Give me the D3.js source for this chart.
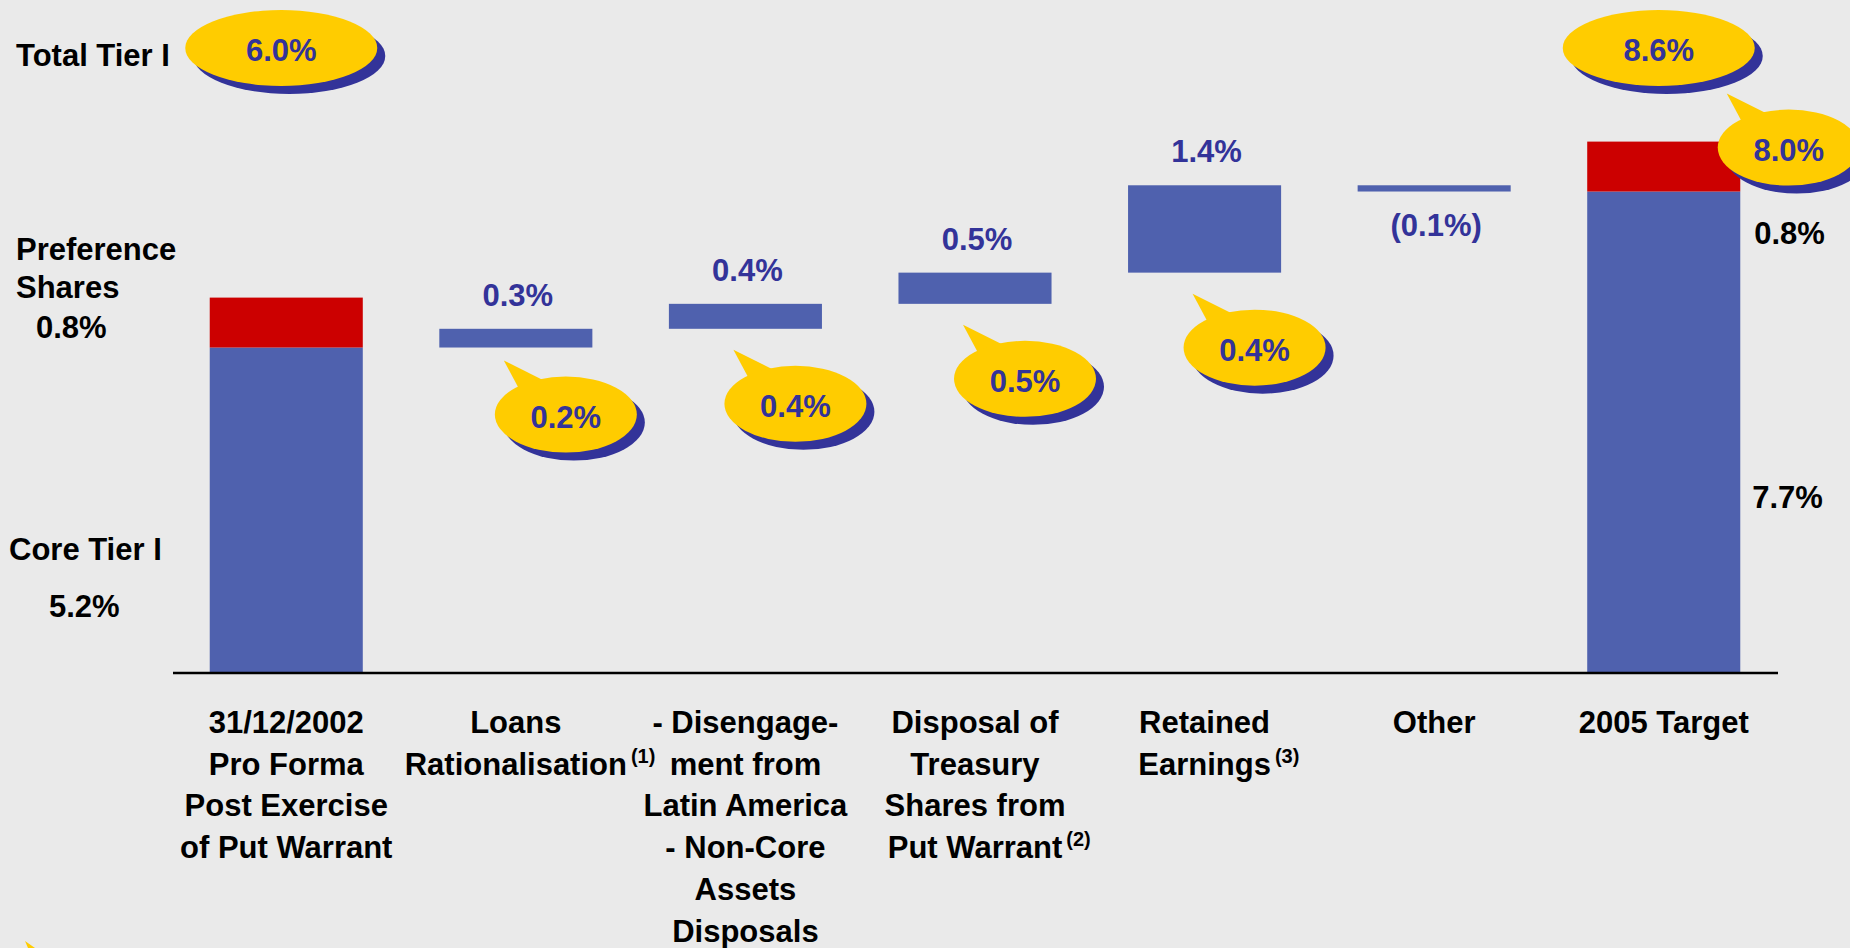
<!DOCTYPE html>
<html>
<head>
<meta charset="utf-8">
<script src="https://cdn.jsdelivr.net/npm/d3@7"></script>
<style>
  body { margin: 0; background: #EAEAEA; }
  text { font-family: "Liberation Sans", Arial, sans-serif; font-weight: bold; }
</style>
</head>
<body>
<script>
// bar categories, in order of the bridge
var categories = ['base', 'loans', 'disengagement', 'treasury', 'retained', 'other', 'target']
var categoryLines = [
    ['31/12/2002', 'Pro Forma', 'Post Exercise', 'of Put Warrant'],
    ['Loans', 'Rationalisation'],
    ['- Disengage-', 'ment from', 'Latin America', '- Non-Core', 'Assets', 'Disposals'],
    ['Disposal of', 'Treasury', 'Shares from', 'Put Warrant'],
    ['Retained', 'Earnings'],
    ['Other'],
    ['2005 Target']
]
var footnotes = [null, '(1)', null, '(2)', '(3)', null, null]

// stacked bars (start / target): core tier I and preference shares, in %
var coreValues = [5.2, null, null, null, null, null, 7.7]
var prefValues = [0.8, null, null, null, null, null, 0.8]
// floating steps
var changeValues = [null, 0.3, 0.4, 0.5, 1.4, -0.1, null]
// yellow callouts under the steps
var calloutValues = [null, 0.2, 0.4, 0.5, 0.4, null, null]
// total tier I ovals and the 2005 callout
var totalTier = [6.0, null, null, null, null, null, 8.6]
var targetCallout = 8.0

var W = 1850, H = 948
var blue = '#4F61AE', red = '#CC0000', yellow = '#FFCC00', navy = '#333399'
var fs = 31

var fmt = function(v) {
    var s = d3.format('.1f')(Math.abs(v)) + '%'
    return v < 0 ? '(' + s + ')' : s
}

var svg = d3.select('body').append('svg').attr('width', W).attr('height', H)

var x = d3.scaleBand().domain(categories).range([173, 1777]).paddingInner(1/3).paddingOuter(0.16)
var y = d3.scaleLinear().domain([0, 10]).range([672, 48])
var cx = function(k) { return x(k) + x.bandwidth() / 2 }

// waterfall levels
var levels = []
var cum = coreValues[0]
categories.forEach(function(k, i) {
    if (changeValues[i] != null) {
        levels.push({key: k, from: cum, to: cum + changeValues[i], v: changeValues[i], callout: calloutValues[i]})
        cum += changeValues[i]
    }
})

// stacked columns
var stacked = categories.map(function(k, i) { return {key: k, core: coreValues[i], pref: prefValues[i], total: totalTier[i]} })
    .filter(function(d) { return d.core != null })

svg.selectAll('.core').data(stacked).enter().append('rect')
    .attr('x', function(d) { return x(d.key) }).attr('width', x.bandwidth())
    .attr('y', function(d) { return y(d.core) }).attr('height', function(d) { return y(0) - y(d.core) })
    .attr('fill', blue)
svg.selectAll('.pref').data(stacked).enter().append('rect')
    .attr('x', function(d) { return x(d.key) }).attr('width', x.bandwidth())
    .attr('y', function(d) { return y(d.core + d.pref) }).attr('height', function(d) { return y(d.core) - y(d.core + d.pref) })
    .attr('fill', red)

// floating steps
svg.selectAll('.step').data(levels).enter().append('rect')
    .attr('x', function(d) { return x(d.key) }).attr('width', x.bandwidth())
    .attr('y', function(d) { return y(Math.max(d.from, d.to)) })
    .attr('height', function(d) { return Math.abs(y(d.from) - y(d.to)) })
    .attr('fill', blue)

svg.selectAll('.steplabel').data(levels).enter().append('text')
    .attr('x', function(d) { return cx(d.key) + 2 })
    .attr('y', function(d) { return d.v >= 0 ? y(d.to) - 23 : y(d.to) + 44 })
    .attr('text-anchor', 'middle').attr('font-size', fs).attr('fill', navy)
    .text(function(d) { return fmt(d.v) })

// axis line
svg.append('line').attr('x1', 173).attr('x2', 1778).attr('y1', 673).attr('y2', 673)
    .attr('stroke', '#000').attr('stroke-width', 2.5)

// oval / callout helper
function bubble(cxp, cyp, rx, label, pointer) {
    var g = svg.append('g').attr('transform', 'translate(' + cxp + ',' + cyp + ')')
    g.append('ellipse').attr('cx', 8).attr('cy', 8).attr('rx', rx).attr('ry', 38).attr('fill', navy)
    if (pointer) g.append('polygon').attr('points', '-62,-54 -47,-26 -22,-34').attr('fill', yellow)
    g.append('ellipse').attr('rx', rx).attr('ry', 38).attr('fill', yellow)
    g.append('text').attr('y', 13).attr('text-anchor', 'middle').attr('font-size', fs).attr('fill', navy).text(label)
}

stacked.forEach(function(d) { bubble(cx(d.key) - 5, 48, 96, fmt(d.total), false) })
levels.filter(function(d) { return d.callout != null }).forEach(function(d) {
    var nudge = d.key == 'loans' ? -8 : 0
    bubble(cx(d.key) + 50, y(d.from) + 75 + nudge, 71, fmt(d.callout), true)
})
var last = stacked[stacked.length - 1]
bubble(cx(last.key) + 125, y(last.core + last.pref) + 6, 71, fmt(targetCallout), true)

// category labels, superscript footnote after the last line
categories.forEach(function(k, i) {
    var lines = categoryLines[i]
    lines.forEach(function(line, j) {
        var t = svg.append('text').attr('x', cx(k)).attr('y', 733 + j * 41.7)
            .attr('text-anchor', 'middle').attr('font-size', fs).attr('fill', '#000').text(line)
        if (j == lines.length - 1 && footnotes[i]) {
            var len = t.node().getComputedTextLength()
            svg.append('text').attr('x', cx(k) + len / 2 + 4).attr('y', 733 + j * 41.7 - 12)
                .attr('font-size', 20).attr('fill', '#000').text(footnotes[i])
        }
    })
})

// left legend text
var left = svg.append('g').attr('font-size', fs)
left.append('text').attr('x', 16).attr('y', 66).attr('font-size', fs).text('Total Tier I')
left.append('text').attr('x', 16).attr('y', 260).attr('font-size', fs).text('Preference')
left.append('text').attr('x', 16).attr('y', 298).attr('font-size', fs).text('Shares')
left.append('text').attr('x', 36).attr('y', 338).attr('font-size', fs).text(fmt(prefValues[0]))
left.append('text').attr('x', 9).attr('y', 560).attr('font-size', fs).text('Core Tier I')
left.append('text').attr('x', 49).attr('y', 617).attr('font-size', fs).text(fmt(coreValues[0]))

// right side values of target column
var rx0 = x(last.key) + x.bandwidth() + 14
svg.append('text').attr('x', rx0).attr('y', 244).attr('font-size', fs).text(fmt(last.pref))
svg.append('text').attr('x', rx0 - 2).attr('y', 508).attr('font-size', fs).text(fmt(last.core))

// stray callout pointer peeking in at bottom-left
svg.append('polygon').attr('points', '25,941 28,948 35,948').attr('fill', yellow)
</script>
</body>
</html>
